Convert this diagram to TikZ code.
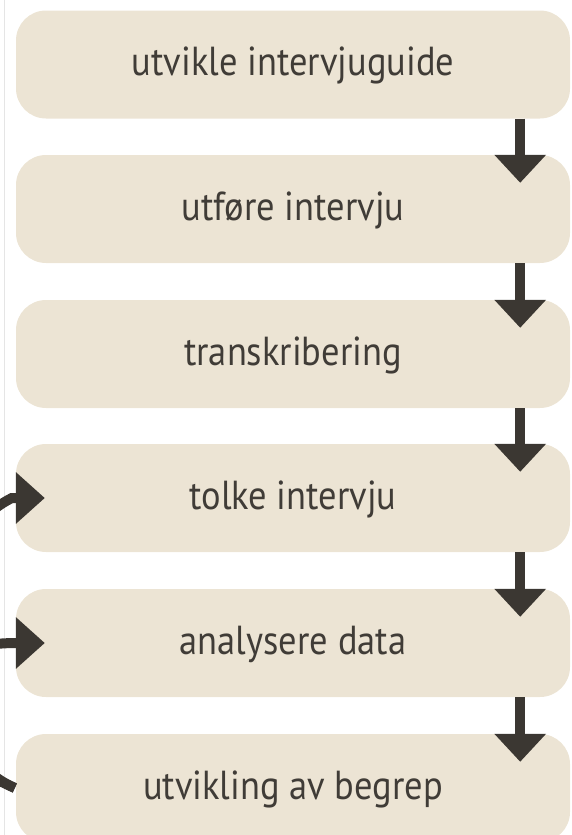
\documentclass[tikz,border=0pt]{standalone}
\usepackage{fontspec}
\setmainfont[FakeStretch=0.9]{PT Sans}
\usetikzlibrary{arrows.meta}
\definecolor{boxfill}{HTML}{ECE4D4}
\definecolor{ink}{HTML}{3B3732}
\definecolor{txt}{HTML}{403C37}
\begin{document}
\begin{tikzpicture}[x=1pt,y=1pt,
  stepbox/.style={fill=boxfill, rounded corners=30pt, minimum width=554pt,
    minimum height=108pt, inner sep=0pt, text height=22pt, text depth=0pt,
    font=\fontsize{40.5}{48}\selectfont, text=txt},
  downarr/.style={draw=ink, line width=10pt, -{Triangle[width=50pt,length=28pt]}},
  looparr/.style={draw=ink, line width=10pt, -{Triangle[width=50pt,length=29pt]}}
]
\useasboundingbox (0,0) rectangle (571,-835);
\begin{scope}
\clip (0,0) rectangle (571,-835);
\draw[black!10, line width=0.8pt] (4,0) -- (4,-835);
\node[stepbox] (b1) at (293,-64.5) {utvikle intervjuguide};
\node[stepbox] (b2) at (293,-209) {utføre intervju};
\node[stepbox] (b3) at (293,-354) {transkribering};
\node[stepbox] (b4) at (293,-498) {tolke intervju};
\node[stepbox] (b5) at (293,-643) {analysere data};
\node[stepbox] (b6) at (293,-788) {utvikling av begrep};
\foreach \a/\b in {b1/b2,b2/b3,b3/b4,b4/b5,b5/b6}
  \draw[downarr] ([xshift=-50pt]\a.south east) -- ([xshift=-50pt,yshift=-28pt]\b.north east);
\draw[looparr] ([xshift=-1pt]b6.west) to[out=156,in=207] ([xshift=-4pt]b4.west) -- ([xshift=29pt]b4.west);
\draw[looparr] ([xshift=-1pt]b6.west) to[out=156,in=182,looseness=2.5] ([xshift=-4pt]b5.west) -- ([xshift=29pt]b5.west);
\end{scope}
\end{tikzpicture}
\end{document}
